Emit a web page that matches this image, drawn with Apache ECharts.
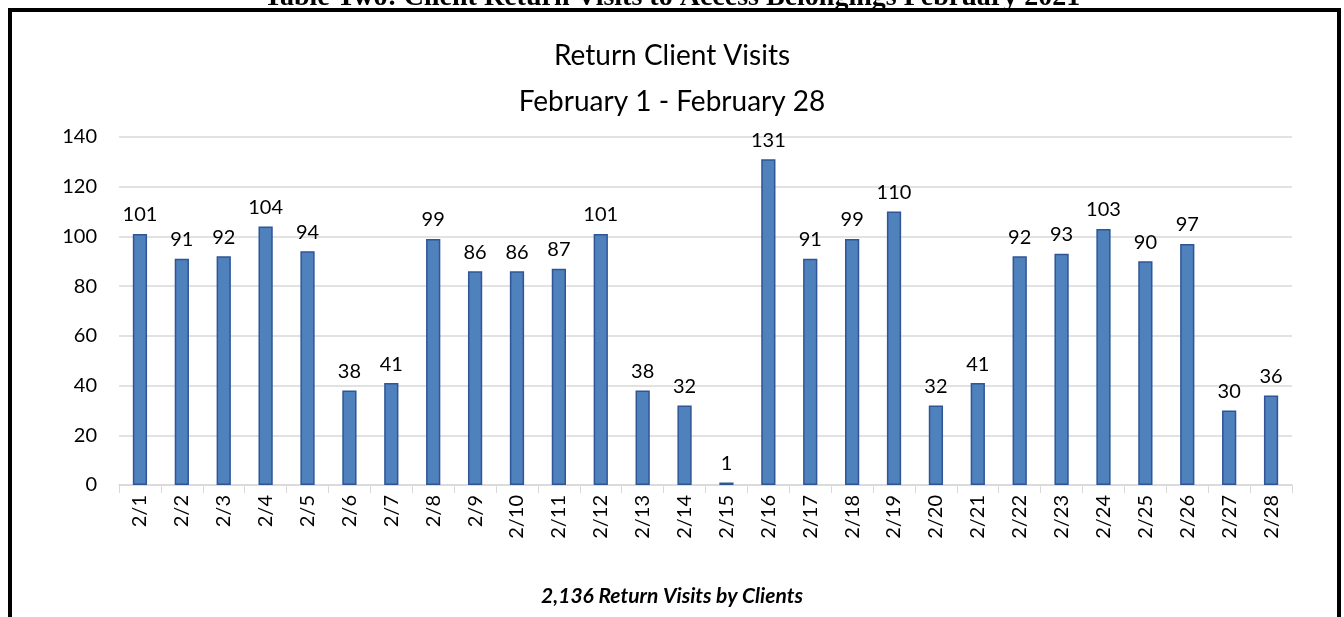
<!DOCTYPE html>
<html>
<head>
<meta charset="utf-8">
<script src="https://cdn.jsdelivr.net/npm/echarts@6/dist/echarts.min.js"></script>
<style>
  html, body { margin: 0; padding: 0; background: #fff; }
  #chart { width: 1344px; height: 617px; }
</style>
</head>
<body>
<div id="chart"></div>
<script>
const days = ['2/1', '2/2', '2/3', '2/4', '2/5', '2/6', '2/7', '2/8', '2/9', '2/10', '2/11', '2/12', '2/13', '2/14',
  '2/15', '2/16', '2/17', '2/18', '2/19', '2/20', '2/21', '2/22', '2/23', '2/24', '2/25', '2/26', '2/27', '2/28']
const visits = [101, 91, 92, 104, 94, 38, 41, 99, 86, 86, 87, 101, 38, 32,
  1, 131, 91, 99, 110, 32, 41, 92, 93, 103, 90, 97, 30, 36]
const yTicks = [0, 20, 40, 60, 80, 100, 120, 140]

const font = 'Lato, "Open Sans", sans-serif'
const chart = echarts.init(document.getElementById('chart'))

chart.setOption({
  animation: false,
  textStyle: { fontFamily: font },
  title: {
    text: 'Return Client Visits\nFebruary 1 - February 28',
    left: 'center',
    top: 28,
    textStyle: {
      fontFamily: font,
      fontWeight: 'normal',
      fontSize: 28,
      lineHeight: 46,
      color: '#000'
    }
  },
  graphic: [
    {
      type: 'text',
      left: 'center',
      top: -16,
      style: {
        text: 'Table Two: Client Return Visits to Access Belongings February 2021',
        font: 'bold 28px "Liberation Serif", serif',
        fill: '#000'
      }
    },
    {
      type: 'rect',
      shape: { x: 10, y: 10, width: 1329, height: 640 },
      style: { fill: 'none', stroke: '#000', lineWidth: 4 }
    },
    {
      type: 'text',
      left: 'center',
      top: 586,
      style: {
        text: '2,136 Return Visits by Clients',
        font: 'italic bold 21px ' + font,
        fill: '#000'
      }
    }
  ],
  grid: {
    left: 119,
    right: 52,
    top: 137,
    bottom: 132
  },
  xAxis: {
    type: 'category',
    data: days,
    axisLine: { lineStyle: { color: '#d9d9d9', width: 1.5 } },
    axisTick: { show: true, length: 8, lineStyle: { color: '#d9d9d9' } },
    axisLabel: {
      rotate: 90,
      color: '#000',
      fontSize: 20,
      margin: 10,
      interval: 0
    }
  },
  yAxis: {
    type: 'value',
    min: yTicks[0],
    max: yTicks[yTicks.length - 1],
    interval: 20,
    axisLine: { show: false },
    axisTick: { show: false },
    splitLine: { lineStyle: { color: '#d9d9d9', width: 1.5 } },
    axisLabel: { color: '#000', fontSize: 20, margin: 22 }
  },
  series: [{
    type: 'bar',
    data: visits,
    barWidth: '34%',
    itemStyle: {
      color: '#4f81bd',
      borderColor: '#2f5597',
      borderWidth: 1.5
    },
    label: {
      show: true,
      position: 'top',
      distance: 9,
      color: '#000',
      fontSize: 20
    }
  }]
})
</script>
</body>
</html>
